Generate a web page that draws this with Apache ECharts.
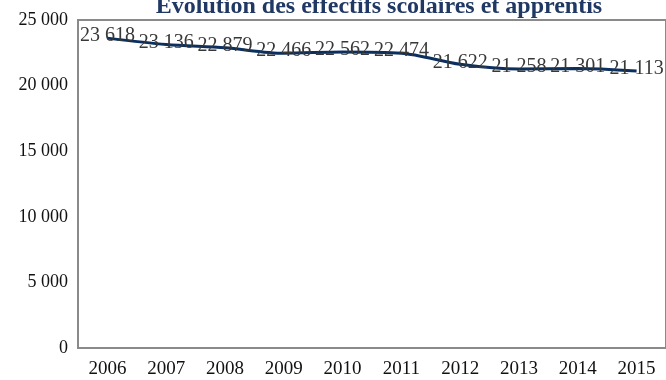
<!DOCTYPE html>
<html>
<head>
<meta charset="utf-8">
<script src="https://cdn.jsdelivr.net/npm/echarts@6/dist/echarts.min.js"></script>
<style>html,body{margin:0;padding:0;background:#fff;}#c{width:666px;height:380px;}</style>
</head>
<body>
<div id="c"></div>
<script>
const titleText = "Évolution des effectifs scolaires et apprentis";
const years = ["2006","2007","2008","2009","2010","2011","2012","2013","2014","2015"];
const effectifs = [23618, 23136, 22879, 22466, 22562, 22474, 21622, 21258, 21301, 21113];

function fmt(v){ return String(v).replace(/\B(?=(\d{3})+(?!\d))/g, ' '); }

const chart = echarts.init(document.getElementById('c'), null, {renderer:'canvas'});
chart.setOption({
  animation:false,
  backgroundColor:'#fff',
  title:{
    text:titleText, left:374, textAlign:'center', top:-10,
    textStyle:{fontFamily:'Liberation Serif', fontWeight:'bold', fontSize:24, color:'#1F3864'}
  },
  grid:{left:78, right:-8, top:20, bottom:32, show:true, borderColor:'#8a8a8a', borderWidth:2, backgroundColor:'transparent'},
  xAxis:{
    type:'category', data:years, boundaryGap:true,
    axisLine:{show:false}, axisTick:{show:false}, splitLine:{show:false},
    axisLabel:{fontFamily:'Liberation Serif', fontSize:19, color:'#111', margin:12}
  },
  yAxis:{
    type:'value', min:0, max:25000, interval:5000,
    axisLine:{show:false}, axisTick:{show:false}, splitLine:{show:false},
    axisLabel:{fontFamily:'Liberation Serif', fontSize:18, color:'#111', margin:10, formatter:fmt}
  },
  series:[{
    type:'line', data:effectifs, smooth:0.3, symbol:'circle', symbolSize:2, showSymbol:true,
    itemStyle:{color:'rgba(0,0,0,0)', borderWidth:0},
    lineStyle:{color:'#0B2F5E', width:3},
    label:{show:true, position:'top', distance:0, offset:[0,9], formatter:p=>fmt(p.value),
      fontFamily:'Liberation Serif', fontSize:20, color:'#383838', opacity:1}
  }]
});
</script>
</body>
</html>
